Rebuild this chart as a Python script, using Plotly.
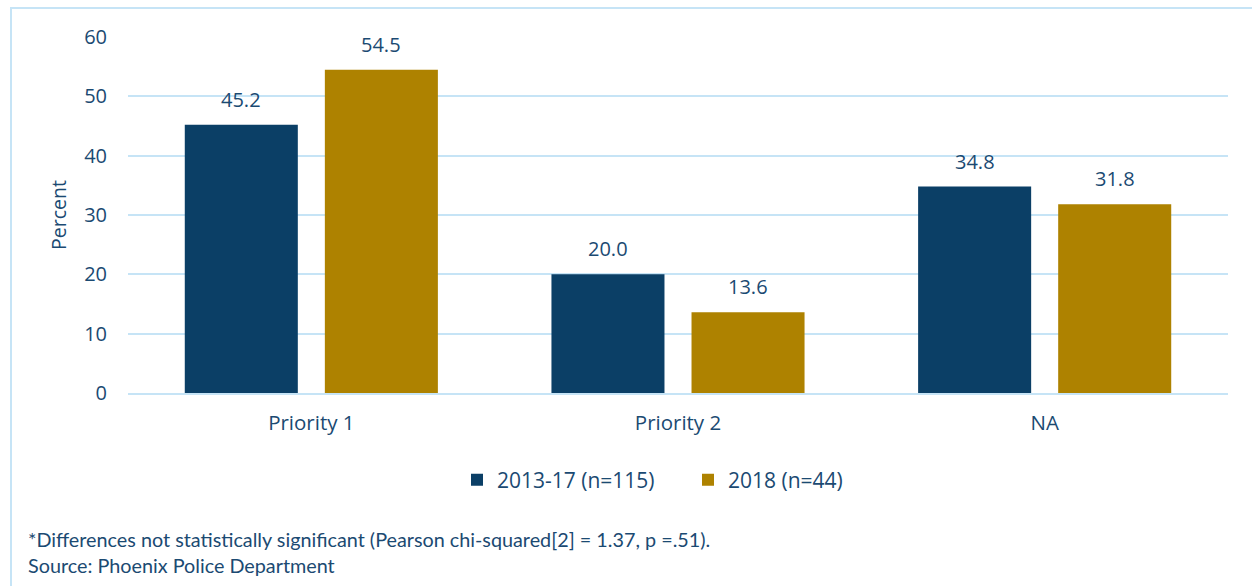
import plotly.graph_objects as go

categories = ["Priority 1", "Priority 2", "NA"]
series_names = ["2013-17 (n=115)", "2018 (n=44)"]
values_2013_17 = [45.2, 20.0, 34.8]
values_2018 = [54.5, 13.6, 31.8]
y_ticks = [0, 10, 20, 30, 40, 50, 60]

BLUE = "#0B3F66"
GOLD = "#AE8200"
TEXT = "#1B4A72"
GRID = "#C6E4F6"
FONT = "Open Sans"

fig = go.Figure()
fig.add_trace(go.Bar(x=categories, y=values_2013_17, name=series_names[0],
                     marker=dict(color=BLUE, line=dict(width=0))))
fig.add_trace(go.Bar(x=categories, y=values_2018, name=series_names[1],
                     marker=dict(color=GOLD, line=dict(width=0))))

for vals, shift in [(values_2013_17, -70), (values_2018, 70)]:
    for c, v in zip(categories, vals):
        fig.add_annotation(x=c, y=v, text=f"{v:.1f}", showarrow=False,
                           xshift=shift, yanchor="bottom", yshift=10,
                           font=dict(family=FONT, size=20, color=TEXT))

fig.add_annotation(xref="paper", yref="paper", x=-102 / 1100, y=(393 - 525) / 356,
                   text="*Differences not statistically significant (Pearson chi-squared[2] = 1.37, p =.51).<br>Source: Phoenix Police Department",
                   showarrow=False, xanchor="left", yanchor="top", align="left",
                   font=dict(family="Lato", size=19.8, color=TEXT))

# outer frame
fig.add_shape(type="rect", xref="paper", yref="paper",
              x0=-117 / 1100, x1=1.05, y0=-0.6, y1=(393 - 8) / 356,
              line=dict(color=GRID, width=2), fillcolor="rgba(0,0,0,0)", layer="below")

fig.update_layout(
    width=1252, height=586,
    margin=dict(l=128, r=24, t=37, b=193),
    paper_bgcolor="white", plot_bgcolor="white",
    barmode="group", bargap=0.236, bargroupgap=0.193,
    font=dict(family=FONT, size=20, color=TEXT),
    showlegend=True,
    legend=dict(orientation="h", x=(457 - 128) / 1100, xanchor="left", y=(393 - 480) / 356, yanchor="middle",
                font=dict(family=FONT, size=21, color=TEXT), itemwidth=30,
                entrywidth=186, traceorder="normal"),
    xaxis=dict(showgrid=False, showline=True, linecolor=GRID, linewidth=2,
               ticks="", ticklabelstandoff=10, tickfont=dict(size=20.5, color=TEXT)),
    yaxis=dict(range=[0, 60], tickvals=y_ticks, showgrid=True, gridcolor=GRID, gridwidth=2,
               zeroline=False, showline=False, ticks="", ticklabelstandoff=20,
               tickfont=dict(size=20, color=TEXT),
               title=dict(text="Percent", font=dict(size=19.5, color=TEXT), standoff=12)),
)

fig.write_html("out.html", config={"displayModeBar": False},
               post_script="document.body.style.margin='0';")
